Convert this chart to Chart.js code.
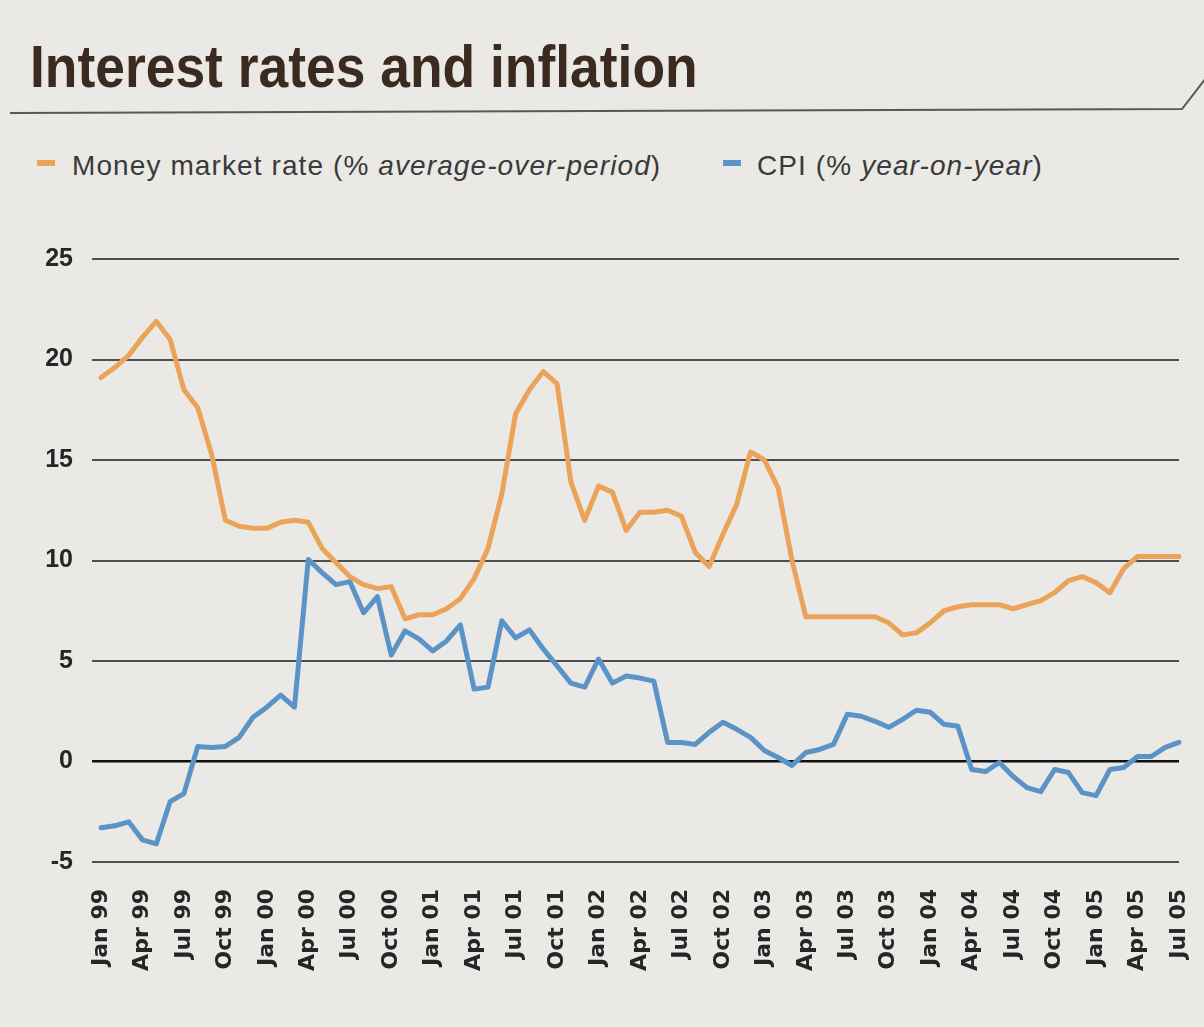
<!DOCTYPE html>
<html lang="en">
<head>
<meta charset="UTF-8">
<script src="https://cdn.jsdelivr.net/npm/chart.js"></script>
<title>Interest rates and inflation</title>
<style>
    html, body { margin: 0; padding: 0; }
    body { width: 1204px; height: 1027px; background: #ebe9e6; position: relative; overflow: hidden; }
    #title {
        position: absolute; left: 30px; top: 37px; margin: 0;
        font: bold 60px "Liberation Sans Narrow", "Liberation Sans", sans-serif;
        line-height: 1; color: #3a2a1f; white-space: nowrap;
        transform: scaleX(0.89); transform-origin: 0 0;
    }
    .legend {
        position: absolute; top: 152px; font: 28px "Liberation Sans", Arial, sans-serif;
        letter-spacing: 1.1px; line-height: 1; color: #3a3a3a; white-space: nowrap;
    }
    .legend i { font-style: italic; }
    .swatch { position: absolute; width: 18px; height: 6px; top: 160px; }
    #chartBox { position: absolute; left: 0; top: 0; width: 1204px; height: 1027px; }
</style>
</head>
<body>

<h1 id="title">Interest rates and inflation</h1>
<div class="swatch" style="left:37px; background:#eba35a;"></div>
<div class="legend" style="left:72px;">Money market rate (% <i>average-over-period</i>)</div>
<div class="swatch" style="left:723px; background:#5b93c7;"></div>
<div class="legend" style="left:757px;">CPI (% <i>year-on-year</i>)</div>

<div id="chartBox"><canvas id="rates"></canvas></div>

<script>
// monthly, Jan 99 .. Jul 05
const monthNames = ['Jan', 'Feb', 'Mar', 'Apr', 'May', 'Jun', 'Jul', 'Aug', 'Sep', 'Oct', 'Nov', 'Dec'];
const years = ['99', '00', '01', '02', '03', '04', '05'];

const moneyMarket = [
    19.1, 19.6, 20.2, 21.1, 21.9, 21.0, 18.5, 17.6, 15.3, 12.0, 11.7, 11.6,
    11.6, 11.9, 12.0, 11.9, 10.6, 9.9, 9.2, 8.8, 8.6, 8.7, 7.1, 7.3,
    7.3, 7.6, 8.1, 9.1, 10.6, 13.3, 17.3, 18.5, 19.4, 18.8, 13.9, 12.0,
    13.7, 13.4, 11.5, 12.4, 12.4, 12.5, 12.2, 10.4, 9.7, 11.3, 12.8, 15.4,
    15.0, 13.6, 10.0, 7.2, 7.2, 7.2, 7.2, 7.2, 7.2, 6.9, 6.3, 6.4,
    6.9, 7.5, 7.7, 7.8, 7.8, 7.8, 7.6, 7.8, 8.0, 8.4, 9.0, 9.2,
    8.9, 8.4, 9.6, 10.2, 10.2, 10.2, 10.2
];

const cpi = [
    -3.3, -3.2, -3.0, -3.9, -4.1, -2.0, -1.6, 0.75, 0.7, 0.75, 1.2, 2.2,
    2.7, 3.3, 2.7, 10.05, 9.4, 8.8, 8.95, 7.4, 8.2, 5.3, 6.5, 6.1,
    5.5, 6.0, 6.8, 3.6, 3.7, 7.0, 6.15, 6.55, 5.6, 4.75, 3.9, 3.7,
    5.1, 3.9, 4.25, 4.15, 4.0, 0.95, 0.95, 0.85, 1.45, 1.95, 1.6, 1.2,
    0.55, 0.2, -0.2, 0.45, 0.6, 0.85, 2.35, 2.25, 2.0, 1.7, 2.1, 2.55,
    2.45, 1.85, 1.75, -0.4, -0.5, -0.05, -0.75, -1.3, -1.5, -0.4, -0.55, -1.55,
    -1.7, -0.4, -0.3, 0.25, 0.25, 0.7, 0.95
];

const yTicks = [-5, 0, 5, 10, 15, 20, 25];

const months = [];
years.forEach(y => monthNames.forEach(m => months.push(m + ' ' + y)));
months.length = moneyMarket.length;

// thin rule under the heading, kinked up at the right edge
const headingRule = {
    id: 'headingRule',
    beforeDraw(chart) {
        const ctx = chart.ctx;
        ctx.save();
        ctx.strokeStyle = '#5a5856';
        ctx.lineWidth = 2;
        ctx.beginPath();
        ctx.moveTo(10, 113);
        ctx.lineTo(1182, 109);
        ctx.lineTo(1206, 78);
        ctx.stroke();
        ctx.restore();
    }
};

new Chart(document.getElementById('rates'), {
    type: 'line',
    data: {
        labels: months,
        datasets: [
            {
                label: 'Money market rate (% average-over-period)',
                data: moneyMarket,
                borderColor: '#eba35a',
                borderWidth: 5,
                pointRadius: 0,
                tension: 0,
                borderJoinStyle: 'round',
                borderCapStyle: 'round'
            },
            {
                label: 'CPI (% year-on-year)',
                data: cpi,
                borderColor: '#5b93c7',
                borderWidth: 5,
                pointRadius: 0,
                tension: 0,
                borderJoinStyle: 'round',
                borderCapStyle: 'round'
            }
        ]
    },
    options: {
        responsive: true,
        maintainAspectRatio: false,
        animation: false,
        layout: { padding: { top: 259, right: 25, bottom: 0, left: 0 } },
        plugins: {
            legend: { display: false },
            tooltip: { enabled: false }
        },
        scales: {
            x: {
                grid: { display: false },
                border: { display: false },
                ticks: {
                    autoSkip: false,
                    minRotation: 90,
                    maxRotation: 90,
                    padding: 19,
                    color: '#262626',
                    font: { family: 'DejaVu Sans', size: 22, weight: 'bold' },
                    callback: (v, i) => i % 3 === 0 ? months[i] : ''
                },
                afterFit(scale) {
                    scale.height = 165;
                    // the rotated end labels fit inside the page margins
                    scale.paddingLeft = 0;
                    scale.paddingRight = 0;
                }
            },
            y: {
                min: -5,
                max: 25,
                afterBuildTicks(scale) { scale.ticks = yTicks.map(v => ({ value: v })); },
                grid: {
                    color: c => c.tick.value === 0 ? '#111' : '#4f4e4d',
                    lineWidth: c => c.tick.value === 0 ? 2.5 : 2,
                    drawTicks: true,
                    tickLength: 9
                },
                border: { display: false },
                ticks: {
                    padding: 19,
                    color: '#262626',
                    font: { family: 'Liberation Sans', size: 25, weight: 'bold' }
                },
                afterFit(scale) { scale.width = 101; }
            }
        }
    },
    plugins: [headingRule]
});
</script>
</body>
</html>
